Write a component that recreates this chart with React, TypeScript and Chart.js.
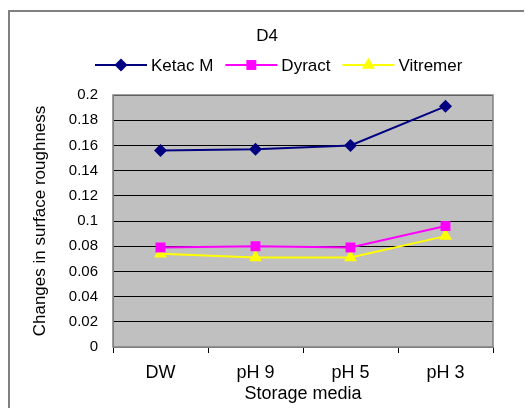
import React, { useEffect, useRef } from "react";
import { Chart, registerables } from "chart.js";

Chart.register(...registerables);

const chartTitle = "D4";
const categories = ["DW", "pH 9", "pH 5", "pH 3"];
const ketacM = [0.156, 0.157, 0.160, 0.191];
const dyract = [0.079, 0.080, 0.079, 0.096];
const vitremer = [0.074, 0.071, 0.071, 0.088];
const yTitle = "Changes in surface roughness";
const xTitle = "Storage media";

const FONT = "'Liberation Sans', Arial, sans-serif";

const seriesMeta = [
  { label: "Ketac M", data: ketacM, color: "#000080", pointStyle: "rectRot", radius: 6.5 },
  { label: "Dyract", data: dyract, color: "#FF00FF", pointStyle: "rect", radius: 7 },
  { label: "Vitremer", data: vitremer, color: "#FFFF00", pointStyle: "triangle", radius: 7.5 },
];

function drawMarker(ctx: CanvasRenderingContext2D, style: string, r: number, x: number, y: number, color: string) {
  ctx.save();
  ctx.fillStyle = color;
  ctx.beginPath();
  if (style === "rectRot") {
    ctx.moveTo(x - r, y);
    ctx.lineTo(x, y - r);
    ctx.lineTo(x + r, y);
    ctx.lineTo(x, y + r);
  } else if (style === "rect") {
    const h = r * Math.SQRT1_2;
    ctx.rect(x - h, y - h, 2 * h, 2 * h);
  } else {
    const a = (2 * Math.PI) / 3;
    ctx.moveTo(x, y - r);
    ctx.lineTo(x + Math.sin(a) * r, y - Math.cos(a) * r);
    ctx.lineTo(x + Math.sin(2 * a) * r, y - Math.cos(2 * a) * r);
  }
  ctx.closePath();
  ctx.fill();
  ctx.restore();
}

const decorPlugin = {
  id: "decor",
  beforeDraw(chart: any) {
    const { ctx, chartArea } = chart;
    ctx.save();
    ctx.fillStyle = "#C0C0C0";
    ctx.fillRect(chartArea.left, chartArea.top, chartArea.right - chartArea.left, chartArea.bottom - chartArea.top);
    ctx.strokeStyle = "#808080";
    ctx.lineWidth = 2;
    ctx.strokeRect(9, 11, 600, 500);
    ctx.restore();
  },
  afterDraw(chart: any) {
    const { ctx, chartArea } = chart;
    ctx.save();
    ctx.strokeStyle = "#808080";
    ctx.lineWidth = 1.5;
    ctx.strokeRect(chartArea.left, chartArea.top, chartArea.right - chartArea.left, chartArea.bottom - chartArea.top);
    ctx.fillStyle = "#000";
    ctx.font = `17px ${FONT}`;
    ctx.textAlign = "center";
    ctx.textBaseline = "middle";
    ctx.fillText(chartTitle, 267, 36);
    ctx.font = `17px ${FONT}`;
    ctx.textAlign = "left";
    let x = 95;
    const y = 65;
    const lineLen = 52;
    seriesMeta.forEach((s) => {
      ctx.strokeStyle = s.color;
      ctx.lineWidth = 2;
      ctx.beginPath();
      ctx.moveTo(x, y);
      ctx.lineTo(x + lineLen, y);
      ctx.stroke();
      drawMarker(ctx, s.pointStyle, s.radius, x + lineLen / 2, y, s.color);
      ctx.fillStyle = "#000";
      ctx.fillText(s.label, x + lineLen + 4, y + 1);
      x += lineLen + 4 + ctx.measureText(s.label).width + 12;
    });
    ctx.restore();
  },
};

export default function App() {
  const ref = useRef<HTMLCanvasElement>(null);
  useEffect(() => {
    if (!ref.current) return;
    const chart = new Chart(ref.current, {
      type: "line",
      data: {
        labels: categories,
        datasets: seriesMeta.map((s) => ({
          label: s.label,
          data: s.data,
          borderColor: s.color,
          backgroundColor: s.color,
          borderWidth: 2,
          pointStyle: s.pointStyle as any,
          pointRadius: s.radius,
          pointBorderWidth: 0,
          pointBackgroundColor: s.color,
          tension: 0,
          fill: false,
        })),
      },
      options: {
        responsive: false,
        animation: false,
        devicePixelRatio: 1,
        layout: { padding: { top: 95, right: 39, left: 0, bottom: 0 } },
        plugins: {
          legend: { display: false },
          title: { display: false },
          tooltip: { enabled: false },
        },
        scales: {
          x: {
            offset: true,
            grid: {
              offset: true,
              drawOnChartArea: false,
              drawTicks: true,
              tickLength: 6,
              color: "#000",
            },
            border: { display: true, color: "#808080", width: 1 },
            ticks: { color: "#000", font: { family: FONT, size: 18 }, padding: 9, maxRotation: 0 },
            title: {
              display: true,
              text: xTitle,
              color: "#000",
              font: { family: FONT, size: 18 },
              padding: { top: 0, bottom: 3 },
            },
            afterFit: (scale: any) => {
              scale.height = 61;
            },
          },
          y: {
            min: 0,
            max: 0.2,
            grid: { color: "#000", drawTicks: false, lineWidth: 1 },
            border: { display: true, color: "#808080" },
            ticks: {
              stepSize: 0.02,
              color: "#000",
              font: { family: FONT, size: 15 },
              padding: 15,
              callback: (v: any) => String(parseFloat(Number(v).toFixed(2))),
            },
            title: {
              display: true,
              text: yTitle,
              color: "#000",
              font: { family: FONT, size: 17 },
              padding: { top: 30, bottom: 0 },
            },
            afterFit: (scale: any) => {
              scale.width = 113;
            },
          },
        },
      },
      plugins: [decorPlugin],
    });
    return () => chart.destroy();
  }, []);
  return (
    <div style={{ marginLeft: -8, marginTop: -8, width: 532, height: 408 }}>
      <canvas ref={ref} width={532} height={408} style={{ display: "block" }} />
    </div>
  );
}
